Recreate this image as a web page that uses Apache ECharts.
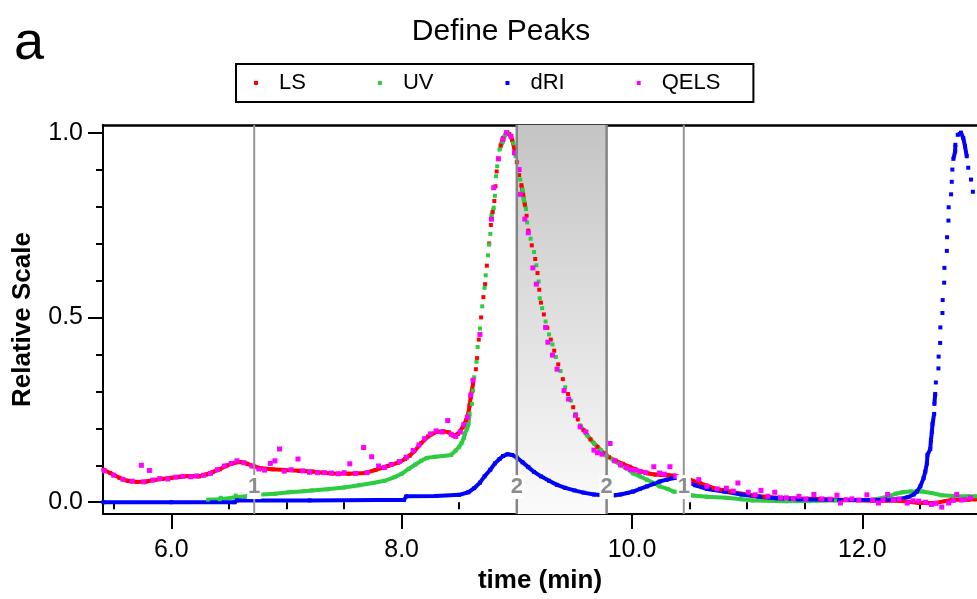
<!DOCTYPE html>
<html>
<head>
<meta charset="utf-8">
<title>Define Peaks</title>
<script src="https://cdn.jsdelivr.net/npm/echarts@6/dist/echarts.min.js"></script>
<style>
  html, body { margin: 0; padding: 0; background: #fff; }
  #chart { width: 977px; height: 599px; }
</style>
</head>
<body>
<div id="chart"></div>
<script>
// time (min), relative value
var lsData = [
  [5.41,0.088],[5.47,0.079],[5.55,0.066],[5.62,0.058],[5.7,0.055],[5.78,0.056],[5.85,0.06],[5.92,0.063],
  [6.0,0.066],[6.08,0.069],[6.15,0.071],[6.24,0.07],[6.3,0.075],[6.36,0.082],[6.42,0.089],[6.48,0.099],
  [6.54,0.106],[6.6,0.109],[6.66,0.104],[6.72,0.097],[6.78,0.092],[6.88,0.089],[6.99,0.087],[7.11,0.085],
  [7.22,0.083],[7.32,0.08],[7.4,0.078],[7.54,0.077],[7.68,0.079],[7.77,0.087],[7.88,0.098],[7.97,0.107],
  [8.03,0.117],[8.07,0.126],[8.11,0.138],[8.17,0.16],[8.23,0.178],[8.3,0.19],[8.36,0.192],[8.41,0.189],
  [8.45,0.18],[8.49,0.185],[8.53,0.203],[8.56,0.222],[8.58,0.24],[8.59,0.262],[8.6,0.284],[8.61,0.302],
  [8.62,0.32],[8.645,0.36],[8.655,0.39],[8.67,0.44],[8.69,0.5],[8.71,0.555],[8.725,0.59],[8.74,0.64],
  [8.76,0.7],[8.775,0.75],[8.79,0.785],[8.805,0.815],[8.815,0.855],[8.825,0.895],[8.84,0.93],[8.86,0.965],
  [8.88,0.985],[8.91,0.998],[8.935,0.996],[8.96,0.98],[8.98,0.955],[9.0,0.92],[9.02,0.885],[9.04,0.858],
  [9.055,0.832],[9.07,0.805],[9.085,0.775],[9.1,0.735],[9.13,0.695],[9.16,0.658],[9.18,0.62],[9.195,0.575],
  [9.21,0.54],[9.235,0.508],[9.265,0.472],[9.295,0.44],[9.325,0.41],[9.36,0.373],[9.4,0.333],[9.445,0.293],
  [9.49,0.257],[9.53,0.224],[9.58,0.195],[9.64,0.17],[9.7,0.15],[9.755,0.133],[9.8,0.122],[9.86,0.112],
  [9.92,0.104],[9.98,0.096],[10.03,0.089],[10.08,0.083],[10.14,0.078],[10.2,0.075],[10.26,0.074],[10.31,0.074],
  [10.37,0.072],[10.43,0.067],[10.5,0.061],[10.59,0.052],[10.65,0.045],[10.71,0.038],[10.78,0.033],[10.85,0.029],
  [10.95,0.023],[11.05,0.018],[11.15,0.015],[11.28,0.012],[11.45,0.01],[11.63,0.009],[11.85,0.006],[12.09,0.004],
  [12.2,0.005],[12.35,0.003],[12.49,-0.002],[12.63,-0.002],[12.72,0.003],[12.78,0.007],[12.92,0.007],[12.99,0.008]
];

var uvData = [
  [6.32,0.007],[6.42,0.008],[6.43,0.012],[6.55,0.013],[6.56,0.018],[6.75,0.02],[6.9,0.023],[7.02,0.027],
  [7.15,0.03],[7.22,0.032],[7.35,0.035],[7.5,0.04],[7.63,0.046],[7.75,0.052],[7.85,0.058],[7.94,0.068],
  [8.0,0.077],[8.06,0.09],[8.12,0.102],[8.17,0.112],[8.22,0.12],[8.29,0.123],[8.36,0.125],[8.43,0.128],
  [8.47,0.14],[8.5,0.15],[8.52,0.16],[8.54,0.174],[8.55,0.186],[8.57,0.2],[8.58,0.212],[8.59,0.239],
  [8.61,0.266],[8.62,0.302],[8.63,0.338],[8.65,0.38],[8.66,0.42],[8.68,0.47],[8.7,0.53],[8.72,0.58],
  [8.73,0.614],[8.75,0.668],[8.76,0.697],[8.77,0.726],[8.78,0.775],[8.8,0.797],[8.81,0.829],[8.82,0.882],
  [8.83,0.909],[8.85,0.954],[8.88,0.976],[8.9,0.994],[8.92,1.0],[8.95,0.989],[8.97,0.971],[8.99,0.936],
  [9.01,0.9],[9.03,0.873],[9.05,0.846],[9.06,0.82],[9.08,0.793],[9.09,0.757],[9.12,0.713],[9.15,0.677],
  [9.17,0.641],[9.19,0.597],[9.2,0.552],[9.22,0.525],[9.25,0.489],[9.28,0.454],[9.31,0.427],[9.34,0.393],
  [9.38,0.355],[9.42,0.311],[9.47,0.275],[9.51,0.239],[9.55,0.208],[9.61,0.181],[9.67,0.159],[9.73,0.141],
  [9.78,0.126],[9.84,0.113],[9.9,0.101],[9.96,0.09],[10.01,0.078],[10.07,0.07],[10.13,0.061],[10.19,0.052],
  [10.24,0.043],[10.31,0.036],[10.36,0.029],[10.45,0.025],[10.53,0.018],[10.65,0.015],[10.82,0.012],[10.95,0.008],
  [11.05,0.005],[11.34,0.003],[11.77,0.005],[12.09,0.007],[12.18,0.012],[12.23,0.016],[12.29,0.023],[12.35,0.027],
  [12.42,0.029],[12.52,0.029],[12.6,0.025],[12.69,0.019],[12.8,0.017],[12.92,0.016],[12.99,0.016]
];

var driData = [
  [5.41,0.0],[6.0,0.0],[6.55,0.0],[6.57,0.005],[7.2,0.005],[7.8,0.006],[8.02,0.006],[8.04,0.016],
  [8.3,0.017],[8.5,0.02],[8.58,0.027],[8.63,0.038],[8.68,0.053],[8.72,0.07],[8.77,0.088],[8.81,0.105],
  [8.85,0.117],[8.88,0.125],[8.92,0.13],[8.96,0.128],[9.0,0.121],[9.05,0.108],[9.1,0.095],[9.15,0.082],
  [9.21,0.07],[9.28,0.058],[9.35,0.047],[9.42,0.039],[9.5,0.032],[9.58,0.026],[9.67,0.021],[9.78,0.018],
  [9.85,0.019],[9.9,0.021],[9.96,0.025],[10.01,0.029],[10.07,0.036],[10.13,0.043],[10.19,0.05],[10.24,0.056],
  [10.3,0.061],[10.35,0.065],[10.4,0.066],[10.45,0.06],[10.5,0.053],[10.55,0.046],[10.65,0.036],[10.8,0.029],
  [10.95,0.021],[11.1,0.015],[11.25,0.011],[11.45,0.008],[11.8,0.006],[12.2,0.007],[12.33,0.009],[12.4,0.014],
  [12.446,0.021],[12.475,0.029],[12.504,0.043],[12.532,0.065],[12.547,0.083],[12.561,0.105],[12.566,0.128],[12.59,0.144],
  [12.596,0.168],[12.604,0.19],[12.61,0.212],[12.624,0.239],[12.626,0.266],[12.633,0.293],[12.639,0.324],[12.661,0.362],
  [12.663,0.394],[12.676,0.431],[12.678,0.473],[12.696,0.512],[12.698,0.547],[12.711,0.594],[12.713,0.634],[12.734,0.68],
  [12.736,0.717],[12.748,0.762],[12.75,0.798],[12.771,0.833],[12.777,0.867],[12.782,0.9],[12.791,0.929],[12.806,0.949],
  [12.808,0.967],[12.829,0.994],[12.857,1.0],[12.877,0.985],[12.892,0.963],[12.907,0.936],[12.92,0.905],[12.944,0.873],
  [12.96,0.84]
];

var qelsData = [
  [5.42,0.085],[5.5,0.073],[5.58,0.062],[5.66,0.057],[5.74,0.1],[5.76,0.055],[5.81,0.086],[5.84,0.06],
  [5.9,0.064],[5.97,0.063],[6.04,0.068],[6.1,0.07],[6.17,0.069],[6.22,0.071],[6.28,0.073],[6.34,0.078],
  [6.4,0.088],[6.46,0.098],[6.52,0.105],[6.57,0.112],[6.63,0.107],[6.7,0.098],[6.76,0.09],[6.81,0.087],
  [6.86,0.105],[6.9,0.112],[6.94,0.144],[6.98,0.084],[7.04,0.088],[7.1,0.117],[7.14,0.085],[7.2,0.081],
  [7.27,0.08],[7.33,0.08],[7.39,0.079],[7.45,0.077],[7.5,0.08],[7.55,0.104],[7.6,0.078],[7.67,0.148],
  [7.7,0.08],[7.74,0.123],[7.8,0.098],[7.85,0.094],[7.91,0.102],[7.98,0.11],[8.04,0.122],[8.1,0.14],
  [8.15,0.155],[8.2,0.172],[8.25,0.185],[8.3,0.193],[8.35,0.19],[8.4,0.221],[8.43,0.184],[8.47,0.178],
  [8.51,0.19],[8.54,0.21],[8.57,0.23],[8.6,0.29],[8.62,0.33],[8.68,0.454],[8.78,0.766],[8.8,0.851],
  [8.84,0.929],[8.88,0.982],[8.91,1.0],[8.95,0.99],[8.98,0.945],[9.02,0.9],[9.03,0.833],[9.07,0.766],
  [9.1,0.729],[9.14,0.634],[9.17,0.59],[9.25,0.473],[9.27,0.433],[9.31,0.398],[9.35,0.36],[9.41,0.302],
  [9.45,0.279],[9.51,0.235],[9.55,0.204],[9.6,0.19],[9.67,0.141],[9.7,0.134],[9.74,0.13],[9.81,0.159],
  [9.85,0.112],[9.9,0.101],[9.95,0.094],[9.99,0.088],[10.03,0.087],[10.07,0.083],[10.12,0.08],[10.19,0.096],
  [10.24,0.079],[10.28,0.076],[10.33,0.096],[10.38,0.07],[10.5,0.052],[10.58,0.061],[10.65,0.043],[10.74,0.036],
  [10.82,0.038],[10.88,0.03],[10.92,0.052],[11.01,0.027],[11.07,0.02],[11.12,0.032],[11.18,0.016],[11.24,0.027],
  [11.29,0.012],[11.34,0.012],[11.4,0.01],[11.45,0.016],[11.51,0.009],[11.58,0.021],[11.65,0.009],[11.72,0.008],
  [11.78,0.019],[11.81,-0.002],[11.86,0.007],[11.91,0.009],[11.97,0.006],[12.04,0.02],[12.09,0.006],[12.14,-0.002],
  [12.18,0.006],[12.22,0.021],[12.27,0.006],[12.32,0.009],[12.39,-0.002],[12.44,0.004],[12.49,0.003],[12.55,0.0],
  [12.6,-0.006],[12.64,-0.003],[12.69,-0.013],[12.75,-0.002],[12.79,0.005],[12.82,0.021],[12.86,0.006],[12.89,0.007],
  [12.94,0.012]
];

// peak boundaries (min) and their peak numbers
var peakBounds = [6.72, 9.0, 9.78, 10.45];
var peakIds = ['1', '2', '2', '1'];
var selectedPeak = [[9.0, 9.78]];

var xTicks = [6, 8, 10, 12];
var xMinorTicks = [5.5, 6.5, 7, 7.5, 8.5, 9, 9.5, 10.5, 11, 11.5, 12.5];
var yTicks = [0, 0.5, 1];
var yMinorTicks = [0.1, 0.2, 0.3, 0.4, 0.6, 0.7, 0.8, 0.9];

var xMin = 5.407, xMax = 12.996;
var yMin = -0.0321, yMax = 1.0206;
var labelLevel = 0.041;
var breakStep = 0.027;

// break the connecting line where the trace jumps (points stay as dots)
function withBreaks(pts) {
    var out = [];
    for (var i = 0; i < pts.length; i++) {
        if (i > 0 && Math.abs(pts[i][1] - pts[i - 1][1]) > breakStep)
            out.push([pts[i][0], '-']);
        out.push(pts[i]);
    }
    return out;
}

var font = '"Liberation Sans", Arial, sans-serif';
var chart = echarts.init(document.getElementById('chart'), null, {renderer: 'canvas'});

function traceSeries(name, color, data) {
    return {
        name: name,
        type: 'line',
        z: 2,
        data: withBreaks(data),
        connectNulls: false,
        showSymbol: true,
        symbol: 'rect',
        symbolSize: 4,
        itemStyle: {color: color, borderWidth: 0},
        lineStyle: {color: color, width: 4},
        emphasis: {disabled: true},
        silent: true
    };
}

var option = {
    animation: false,
    backgroundColor: '#fff',
    title: {
        text: 'Define Peaks',
        left: 496,
        top: 12,
        textAlign: 'center',
        textStyle: {fontFamily: font, fontSize: 30, fontWeight: 'normal', color: '#000'}
    },
    graphic: [{
        type: 'text', left: 14, top: 17,
        style: {text: 'a', font: '54px ' + font, fill: '#000'}
    }],
    legend: {
        left: 236,
        top: 64,
        orient: 'horizontal',
        itemWidth: 4,
        itemHeight: 4,
        itemGap: 72,
        padding: [8, 33, 8, 18],
        borderColor: '#000',
        borderWidth: 2,
        borderRadius: 0,
        selectedMode: false,
        textStyle: {fontFamily: font, fontSize: 22, color: '#000', padding: [0, 0, 0, 16]},
        data: [
            {name: 'LS', icon: 'rect'},
            {name: 'UV', icon: 'rect'},
            {name: 'dRI', icon: 'rect'},
            {name: 'QELS', icon: 'rect'}
        ]
    },
    grid: {left: 103, top: 125, width: 879, height: 393},
    xAxis: [{
        type: 'value', min: xMin, max: xMax, position: 'bottom',
        name: 'time (min)', nameLocation: 'middle', nameGap: 53,
        nameTextStyle: {fontFamily: font, fontSize: 26, fontWeight: 'bold', color: '#000'},
        axisLine: {onZero: false, lineStyle: {color: '#000', width: 2}},
        axisTick: {customValues: xTicks, length: 15, lineStyle: {color: '#000', width: 2}},
        axisLabel: {customValues: xTicks, margin: 24, fontFamily: font, fontSize: 25, color: '#000',
            formatter: function (v) { return v.toFixed(1); }},
        splitLine: {show: false}
    }, {
        type: 'value', min: xMin, max: xMax, position: 'bottom', gridIndex: 0,
        axisLine: {show: false}, axisLabel: {show: false}, splitLine: {show: false},
        axisTick: {customValues: xMinorTicks, length: 7, lineStyle: {color: '#000', width: 2}}
    }, {
        type: 'value', min: xMin, max: xMax, position: 'top',
        axisLine: {onZero: false, lineStyle: {color: '#000', width: 2.5}},
        axisTick: {show: false}, axisLabel: {show: false}, splitLine: {show: false}
    }],
    yAxis: [{
        type: 'value', min: yMin, max: yMax, position: 'left',
        name: 'Relative Scale', nameLocation: 'middle', nameGap: 67,
        nameTextStyle: {fontFamily: font, fontSize: 26, fontWeight: 'bold', color: '#000'},
        axisLine: {show: true, onZero: false, lineStyle: {color: '#000', width: 2}},
        axisTick: {show: true, customValues: yTicks, length: 15, lineStyle: {color: '#000', width: 2}},
        axisLabel: {customValues: yTicks, margin: 20, fontFamily: font, fontSize: 25, color: '#000',
            formatter: function (v) { return v.toFixed(1); }},
        splitLine: {show: false}
    }, {
        type: 'value', min: yMin, max: yMax, position: 'left',
        axisLine: {show: false}, axisLabel: {show: false}, splitLine: {show: false},
        axisTick: {show: true, customValues: yMinorTicks, length: 7, lineStyle: {color: '#000', width: 2}}
    }],
    series: [
        {
            name: 'selected peak',
            type: 'custom',
            silent: true,
            z: 1,
            data: selectedPeak,
            renderItem: function (params, api) {
                var p0 = api.coord([api.value(0), yMax]);
                var p1 = api.coord([api.value(1), yMin]);
                return {
                    type: 'rect',
                    shape: {x: p0[0], y: p0[1], width: p1[0] - p0[0], height: p1[1] - p0[1]},
                    style: {fill: new echarts.graphic.LinearGradient(0, 0, 0, 1, [
                        {offset: 0, color: '#c4c4c4'},
                        {offset: 1, color: '#fbfbfb'}
                    ])}
                };
            }
        },
        traceSeries('LS', '#ff0000', lsData),
        traceSeries('UV', '#2ecc40', uvData),
        traceSeries('dRI', '#0000ff', driData),
        {
            name: 'QELS',
            type: 'scatter',
            z: 5,
            symbol: 'rect',
            symbolSize: 5,
            data: qelsData,
            itemStyle: {color: '#ff00ff', opacity: 1},
            emphasis: {disabled: true},
            silent: true
        },
        {
            name: 'peak bounds',
            type: 'custom',
            silent: true,
            z: 6,
            data: peakBounds.map(function (t) { return [t]; }),
            renderItem: function (params, api) {
                var t = api.value(0);
                var top = api.coord([t, yMax]);
                var bot = api.coord([t, yMin]);
                var lab = api.coord([t, labelLevel]);
                var id = peakIds[params.dataIndex];
                var sel = id === '2';
                return {
                    type: 'group',
                    children: [{
                        type: 'line',
                        shape: {x1: top[0], y1: top[1], x2: bot[0], y2: bot[1]},
                        style: {stroke: sel ? '#858585' : '#959595', lineWidth: sel ? 2.5 : 2}
                    }, {
                        type: 'text',
                        x: lab[0], y: lab[1],
                        style: {
                            text: id, fill: '#8c8c8c', font: 'bold 22px ' + font,
                            align: 'center', verticalAlign: 'middle',
                            backgroundColor: '#fff', padding: [1, 1]
                        }
                    }]
                };
            }
        }
    ]
};
chart.setOption(option);
</script>
</body>
</html>
